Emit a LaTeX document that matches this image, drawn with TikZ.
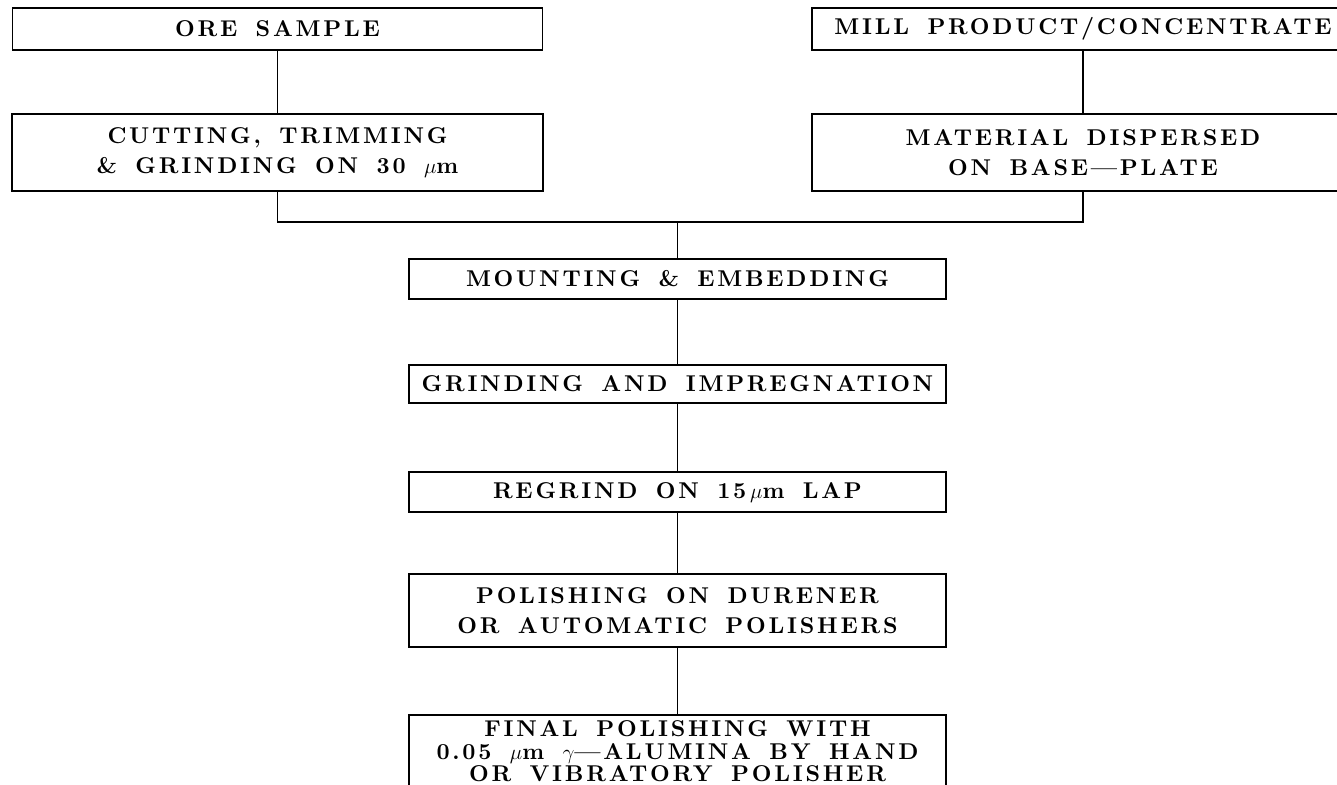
\documentclass[tikz,border=0pt]{standalone}
\usepackage{fontspec}
\usepackage{tikz}
\usetikzlibrary{positioning,calc}
\newfontfamily\lepesff{lmroman10-bold.otf}[LetterSpace=12,WordSpace=1.6]
\newcommand{\lepesfont}{\fontsize{13}{17}\selectfont\lepesff}
\tikzset{
  lepes/.style={draw,line width=1.1pt,align=center,font=\lepesfont,inner sep=2pt,
                minimum width=10.74cm},
  osszekot/.style={line width=1.1pt},
}
\begin{document}
\begin{tikzpicture}[node distance=1.3cm]
  \useasboundingbox (0,0) rectangle (26.74,-15.68);
  % two starting branches
  \node[lepes,minimum width=10.6cm,minimum height=0.84cm] (ore) at (5.55,-0.58) {ORE SAMPLE};
  \node[lepes,minimum width=10.62cm,minimum height=1.54cm,below=1.24cm of ore] (cut)
     {CUTTING, TRIMMING\\ \& GRINDING ON 30 $\mu$m};
  \node[lepes,minimum width=10.84cm,minimum height=0.84cm] (mill) at (21.66,-0.58) {MILL PRODUCT/CONCENTRATE};
  \node[lepes,minimum width=10.84cm,minimum height=1.54cm,below=1.24cm of mill] (mat)
     {MATERIAL DISPERSED\\ ON BASE\textemdash PLATE};
  \coordinate (join) at (13.55,-4.44);
  % main chain
  \node[lepes,minimum height=0.8cm,below=0.72cm of join] (mount) {MOUNTING \& EMBEDDING};
  \node[lepes,minimum height=0.76cm,below=1.28cm of mount] (grind) {GRINDING AND IMPREGNATION};
  \node[lepes,minimum height=0.8cm,below=1.35cm of grind] (regrind) {REGRIND ON 15\,$\mu$m LAP};
  \node[lepes,minimum height=1.46cm,below=1.2cm of regrind] (polish)
     {POLISHING ON DURENER\\ OR AUTOMATIC POLISHERS};
  \node[lepes,minimum height=1.44cm,below=1.32cm of polish] (final)
     {FINAL POLISHING WITH\\[-4pt] 0.05 $\mu$m $\gamma$\textemdash ALUMINA BY HAND\\[-4pt] OR VIBRATORY POLISHER};
  % connectors
  \draw[osszekot] (ore) -- (cut);
  \draw[osszekot] (mill) -- (mat);
  \draw[osszekot] (cut) |- (join) -| (mat);
  \draw[osszekot] (join) -- (mount);
  \draw[osszekot] (mount) -- (grind);
  \draw[osszekot] (grind) -- (regrind);
  \draw[osszekot] (regrind) -- (polish);
  \draw[osszekot] (polish) -- (final);
\end{tikzpicture}
\end{document}
